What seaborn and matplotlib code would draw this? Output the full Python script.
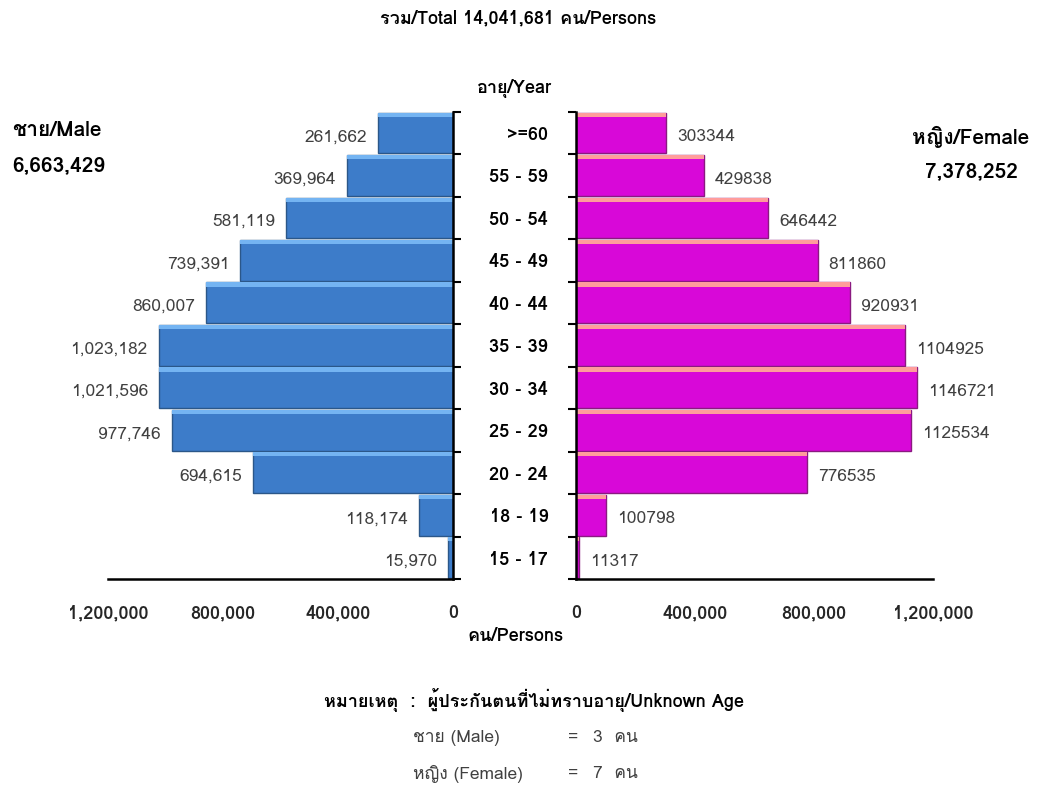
import matplotlib
matplotlib.use('Agg')
import matplotlib.pyplot as plt
from matplotlib import font_manager
from matplotlib.ft2font import FT2Font
from matplotlib.patches import Rectangle
from matplotlib.ticker import FuncFormatter, FixedLocator
import seaborn as sns
import pandas as pd
import numpy as np

# data
age_groups = ['>=60', '55 - 59', '50 - 54', '45 - 49', '40 - 44', '35 - 39',
              '30 - 34', '25 - 29', '20 - 24', '18 - 19', '15 - 17']
male = [261662, 369964, 581119, 739391, 860007, 1023182,
        1021596, 977746, 694615, 118174, 15970]
female = [303344, 429838, 646442, 811860, 920931, 1104925,
          1146721, 1125534, 776535, 100798, 11317]
x_ticks = [0, 400000, 800000, 1200000]
total_text = 'รวม/Total 14,041,681 คน/Persons'
male_total = '6,663,429'
female_total = '7,378,252'
unknown_male = 3
unknown_female = 7


def find_thai_font():
    # pick any installed font that has Thai glyphs
    for f in font_manager.fontManager.ttflist:
        try:
            if 0x0E0A in FT2Font(f.fname).get_charmap():
                return f.name
        except Exception:
            continue
    return None


sns.set_theme(style='white')
thai = find_thai_font()
families = [thai, 'DejaVu Sans'] if thai else ['DejaVu Sans']
plt.rcParams['font.family'] = families

W, H = 1037, 794
fig = plt.figure(figsize=(W / 100, H / 100), dpi=100)


def fx(px):
    return px / W


def fy(py):
    return 1 - py / H


y0, y1 = 579, 111.7
ax_l = fig.add_axes([fx(108), fy(y0), fx(453 - 108), (y0 - y1) / H])
ax_r = fig.add_axes([fx(576), fy(y0), fx(933 - 576), (y0 - y1) / H])

df = pd.DataFrame({'age': age_groups, 'male': male, 'female': female})

sns.barplot(data=df, x='male', y='age', order=age_groups, orient='h', ax=ax_l,
            color='#3d7cc9', saturation=1, width=0.96,
            edgecolor='#2b5789', linewidth=1.0)
sns.barplot(data=df, x='female', y='age', order=age_groups, orient='h', ax=ax_r,
            color='#d808d8', saturation=1, width=0.96,
            edgecolor='#8a1a80', linewidth=1.0)

n = len(age_groups)
text_col = '#404040'
for ax, vals, side, shine in [(ax_l, male, 'left', '#74b4f2'),
                              (ax_r, female, 'right', '#ff9c9c')]:
    ax.set_ylim(n - 0.5, -0.5)
    if side == 'left':
        ax.set_xlim(1200000, 0)
    else:
        ax.set_xlim(0, 1200000)
    ax.set_xlabel('')
    ax.set_ylabel('')
    ax.xaxis.set_major_locator(FixedLocator(x_ticks))
    ax.xaxis.set_major_formatter(FuncFormatter(lambda v, p: f'{int(v):,}'))
    ax.tick_params(axis='x', direction='out', length=7, width=1.5, color='black',
                   pad=11, labelsize=13)
    for lab in ax.get_xticklabels():
        lab.set_fontweight('bold')

    # light bevel strip along the top of each bar
    for p in ax.patches[:n]:
        ax.add_patch(Rectangle((p.get_x(), p.get_y()), p.get_width(), p.get_height() * 0.1,
                               facecolor=shine, edgecolor='none', zorder=p.get_zorder() + 0.1))

    # value labels just past the bar ends, a touch below centre
    sign = -1 if side == 'left' else 1
    for i, v in enumerate(vals):
        txt = f'{v:,}' if side == 'left' else f'{v}'
        ax.annotate(txt, xy=(v, i), xytext=(sign * 8, -3), textcoords='offset points',
                    ha='right' if side == 'left' else 'left', va='center',
                    fontsize=12.5, color=text_col)

    for s in ax.spines.values():
        s.set_visible(False)
    ax.spines['bottom'].set_visible(True)
    ax.spines['bottom'].set_linewidth(1.8)
    ax.spines['bottom'].set_color('black')
    spine = 'right' if side == 'left' else 'left'
    ax.spines[spine].set_visible(True)
    ax.spines[spine].set_linewidth(1.8)
    ax.spines[spine].set_color('black')
    # ticks on the band boundaries, labels in the bands
    ax.yaxis.set_minor_locator(FixedLocator(np.arange(-0.5, n, 1.0)))
    ax.tick_params(axis='y', which='minor', direction='out', length=6, width=1.5,
                   color='black', left=(side == 'right'), right=(side == 'left'))
    ax.tick_params(axis='y', which='major', length=0)

ax_l.set_yticklabels([])
ax_r.tick_params(axis='y', which='major', pad=20, labelsize=13, labelcolor='black')
for lab in ax_r.get_yticklabels():
    lab.set_fontweight('bold')
    lab.set_horizontalalignment('right')

bold = dict(fontweight='bold', color='black')
fig.text(fx(518), fy(18), total_text, ha='center', va='center', fontsize=13, **bold)
fig.text(fx(514), fy(88), 'อายุ/Year', ha='center', va='center', fontsize=13, **bold)
fig.text(fx(12), fy(130), 'ชาย/Male', ha='left', va='center', fontsize=15, **bold)
fig.text(fx(12), fy(166), male_total, ha='left', va='center', fontsize=15, **bold)
fig.text(fx(1029), fy(137), 'หญิง/Female', ha='right', va='center', fontsize=15, **bold)
fig.text(fx(971), fy(172), female_total, ha='center', va='center', fontsize=15, **bold)
fig.text(fx(516), fy(636), 'คน/Persons', ha='center', va='center', fontsize=13, **bold)

fig.text(fx(534), fy(700), 'หมายเหตุ  :  ผู้ประกันตนที่ไม่ทราบอายุ/Unknown Age',
         ha='center', va='center', fontsize=13, **bold)
for row_y, label, val in [(738, 'ชาย (Male)', unknown_male),
                          (774, 'หญิง (Female)', unknown_female)]:
    fig.text(fx(413), fy(row_y), label, ha='left', va='center', fontsize=12.5, color=text_col)
    fig.text(fx(568), fy(row_y), '=', ha='left', va='center', fontsize=12.5, color=text_col)
    fig.text(fx(593), fy(row_y), f'{val}  คน', ha='left', va='center', fontsize=12.5, color=text_col)

fig.savefig('out.png', dpi=100)
